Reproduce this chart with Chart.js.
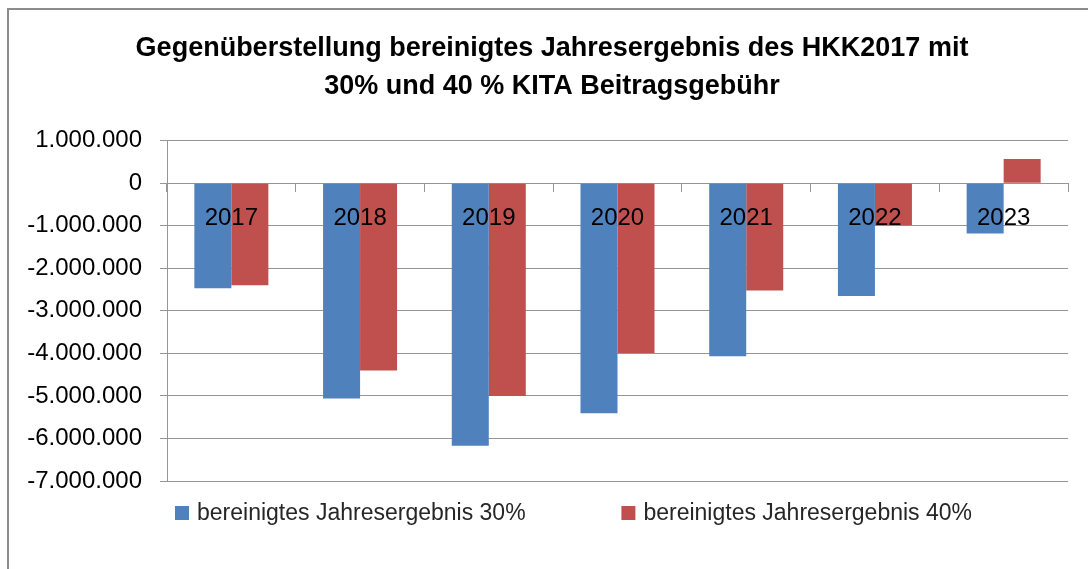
<!DOCTYPE html>
<html>
<head>
<meta charset="utf-8">
<script src="https://cdn.jsdelivr.net/npm/chart.js@4/dist/chart.umd.min.js"></script>
<style>
  html, body { margin: 0; padding: 0; background: #fff; }
  #wrap { position: relative; width: 1088px; height: 569px; overflow: hidden; }
  #frame { position: absolute; left: 7px; top: 8px; width: 1200px; height: 700px; border-left: 2px solid #8c8c8c; border-top: 2px solid #8c8c8c; pointer-events: none; }
  canvas { position: absolute; left: 0; top: 0; }
</style>
</head>
<body>
<div id="wrap">
  <canvas id="chart" width="1088" height="569"></canvas>
  <div id="frame"></div>
</div>
<script>
// values (EUR)
const years = ['2017', '2018', '2019', '2020', '2021', '2022', '2023'];
const ergebnis30 = [-2470000, -5060000, -6170000, -5410000, -4070000, -2650000, -1180000];
const ergebnis40 = [-2400000, -4400000, -5000000, -3990000, -2520000, -990000, 570000];
const seriesNames = ['bereinigtes Jahresergebnis 30%', 'bereinigtes Jahresergebnis 40%'];
const titleLines = ['Gegenüberstellung bereinigtes Jahresergebnis des HKK2017 mit', '30% und 40 % KITA Beitragsgebühr'];
const yMin = -7000000, yMax = 1000000, yStep = 1000000;

const FONT = "'Liberation Sans', Arial, sans-serif";
const gridGray = '#959595';
const padLeft = 36;

// 1.000.000 style numbers
function fmt(v){
  const s = Math.abs(Math.round(v)).toString().replace(/\B(?=(\d{3})+(?!\d))/g, '.');
  return (v < 0 ? '-' : '') + s;
}

// the left padding only centres the title; let the y labels use that space too
const yLabelRoom = {
  id: 'yLabelRoom',
  afterLayout(chart){ chart.scales.y.left = 0; }
};

// legend below the plot, drawn from the datasets
const bottomLegend = {
  id: 'bottomLegend',
  afterDraw(chart){
    const c = chart.ctx;
    const box = 14, gapText = 8, y = 513;
    c.save();
    c.font = '23px ' + FONT;
    c.textBaseline = 'middle';
    const items = chart.data.datasets.map(ds => ({ds, w: box + gapText + c.measureText(ds.label).width}));
    // first square at 175, last text ends near 972
    const gapItems = (972 - 175) - items.reduce((a, it) => a + it.w, 0);
    let x = 175;
    items.forEach(it => {
      c.fillStyle = it.ds.backgroundColor;
      c.fillRect(x, y - box / 2, box, box);
      c.fillStyle = '#262626';
      c.fillText(it.ds.label, x + box + gapText, y + 1);
      x += it.w + gapItems;
    });
    c.restore();
  }
};

new Chart(document.getElementById('chart'), {
  type: 'bar',
  data: {
    labels: years,
    datasets: [
      { label: seriesNames[0], data: ergebnis30, backgroundColor: '#4F81BD' },
      { label: seriesNames[1], data: ergebnis40, backgroundColor: '#C0504D' }
    ]
  },
  options: {
    responsive: false,
    animation: false,
    layout: { padding: { left: padLeft, right: 20, top: 0, bottom: 88 } },
    datasets: { bar: { categoryPercentage: 0.575, barPercentage: 1.0 } },
    plugins: {
      legend: { display: false },
      tooltip: { enabled: false },
      title: {
        display: true,
        text: titleLines,
        color: '#000',
        font: { family: FONT, size: 27, weight: 'bold', lineHeight: 1.42 },
        padding: { top: 29, bottom: 35 }
      }
    },
    scales: {
      x: {
        position: { y: 0 },
        grid: { drawOnChartArea: false, drawTicks: true, tickLength: 8, color: gridGray, offset: true },
        border: { display: true, color: gridGray },
        ticks: { z: 1, color: '#000', font: { family: FONT, size: 24 }, padding: 13, maxRotation: 0 }
      },
      y: {
        min: yMin, max: yMax,
        afterFit(scale){ scale.width = 167 - padLeft; },
        grid: { color: gridGray, tickLength: 7 },
        border: { display: true, color: gridGray },
        ticks: { stepSize: yStep, color: '#000', font: { family: FONT, size: 24 }, padding: 18, callback: v => fmt(v) }
      }
    }
  },
  plugins: [yLabelRoom, bottomLegend]
});
</script>
</body>
</html>
